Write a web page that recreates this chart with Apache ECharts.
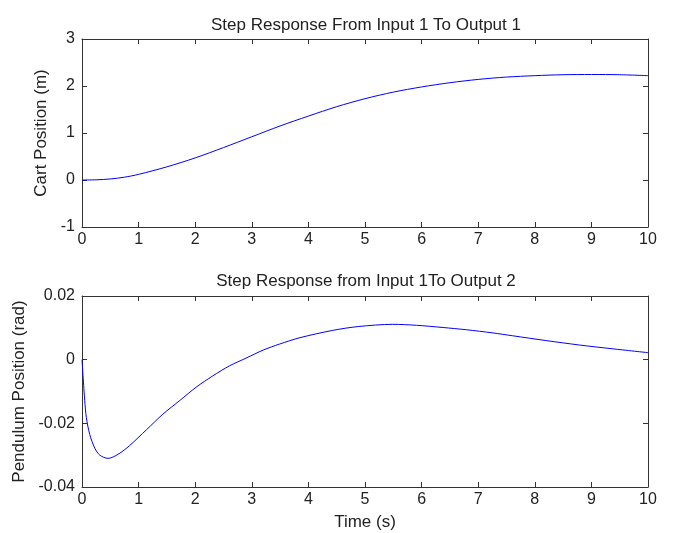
<!DOCTYPE html>
<html>
<head>
<meta charset="utf-8">
<script src="https://cdn.jsdelivr.net/npm/echarts@6/dist/echarts.min.js"></script>
<style>html,body{margin:0;padding:0;background:#fff;}#c{width:673px;height:533px;}</style>
</head>
<body>
<div id="c"></div>
<script>
var titleTop = 'Step Response From Input 1 To Output 1';
var titleBottom = 'Step Response from Input 1To Output 2';
var yLabelTop = 'Cart Position (m)';
var yLabelBottom = 'Pendulum Position (rad)';
var xLabel = 'Time (s)';

var cartTime = [0, 0.25, 0.5, 0.75, 1, 1.5, 2, 2.5, 3, 3.5, 4, 4.5, 5, 5.5, 6, 6.5, 7, 7.5, 8, 8.5, 9, 9.5, 10];
var cartPos  = [0, 0.004, 0.022, 0.06, 0.12, 0.28, 0.47, 0.69, 0.92, 1.15, 1.36, 1.56, 1.73, 1.87, 1.98, 2.07, 2.14, 2.19, 2.22, 2.24, 2.245, 2.24, 2.22];

var pendTime = [0, 0.048, 0.077, 0.137, 0.226, 0.315, 0.46, 0.64, 0.84, 1.14, 1.43, 1.73, 2.02, 2.31, 2.61, 2.9, 3.2, 3.49, 3.85, 4.43, 4.88, 5.49, 5.91, 6.38, 6.79, 7.26, 7.61, 8.2, 8.79, 9.38, 10];
var pendPos  = [0, -0.0128, -0.0182, -0.0235, -0.0278, -0.0300, -0.0310, -0.0297, -0.0270, -0.0220, -0.0171, -0.0128, -0.0086, -0.0051, -0.0019, 0.0005, 0.0030, 0.0049, 0.0069, 0.0092, 0.0104, 0.0111, 0.0108, 0.0101, 0.0094, 0.0084, 0.0075, 0.0060, 0.0046, 0.0034, 0.0022];

function pairs(xs, ys){ return xs.map(function(x,i){ return [x, ys[i]]; }); }

var font = 'Liberation Sans';
var axisColor = '#333';
var textColor = '#222';
var tickFont = {fontFamily: font, fontSize: 16, color: textColor};
var labelFont = {fontFamily: font, fontSize: 17, color: textColor};

function xAx(gi, pos, showLabel){
  return {type:'value', gridIndex: gi, position: pos, min:0, max:10, interval:1,
    axisLine:{show:true, onZero:false, lineStyle:{color:axisColor, width:1}},
    axisTick:{show:true, inside:true, length:5, lineStyle:{color:axisColor}},
    axisLabel:Object.assign({show:showLabel, margin:5}, tickFont),
    splitLine:{show:false}};
}
function yAx(gi, pos, min, max, interval, showLabel, fmt){
  return {type:'value', gridIndex: gi, position: pos, min:min, max:max, interval:interval,
    axisLine:{show:true, onZero:false, lineStyle:{color:axisColor, width:1}},
    axisTick:{show:true, inside:true, length:5, lineStyle:{color:axisColor}},
    axisLabel:Object.assign({show:showLabel, margin:7, formatter: fmt}, tickFont),
    splitLine:{show:false}};
}
function fmtSmall(v){ if (Math.abs(v) < 1e-9) return '0'; return v.toFixed(2); }

var chart = echarts.init(document.getElementById('c'));
chart.setOption({
  animation:false,
  backgroundColor:'#fff',
  title:[
    {text:titleTop, left:361, top:12, textAlign:'center', textStyle:{fontFamily:font, fontSize:17, fontWeight:'normal', color:textColor}},
    {text:titleBottom, left:361, top:268, textAlign:'center', textStyle:{fontFamily:font, fontSize:17, fontWeight:'normal', color:textColor}}
  ],
  grid:[
    {left:82, right:25, top:39, height:188},
    {left:82, right:25, top:296, height:191}
  ],
  xAxis:[
    xAx(0,'bottom',true), xAx(0,'top',false),
    Object.assign(xAx(1,'bottom',true), {name:xLabel, nameLocation:'middle', nameGap:27, nameTextStyle:labelFont}),
    xAx(1,'top',false)
  ],
  yAxis:[
    Object.assign(yAx(0,'left',-1,3,1,true, function(v){return String(v);}), {name:yLabelTop, nameLocation:'middle', nameGap:28, nameTextStyle:labelFont}),
    yAx(0,'right',-1,3,1,false),
    Object.assign(yAx(1,'left',-0.04,0.02,0.02,true, fmtSmall), {name:yLabelBottom, nameLocation:'middle', nameGap:51, nameTextStyle:labelFont}),
    yAx(1,'right',-0.04,0.02,0.02,false)
  ],
  series:[
    {type:'line', xAxisIndex:0, yAxisIndex:0, data:pairs(cartTime, cartPos), smooth:0.3, showSymbol:false, lineStyle:{color:'#0000ff', width:1}},
    {type:'line', xAxisIndex:2, yAxisIndex:2, data:pairs(pendTime, pendPos), smooth:0.3, showSymbol:false, lineStyle:{color:'#0000ff', width:1}}
  ]
});
</script>
</body>
</html>
